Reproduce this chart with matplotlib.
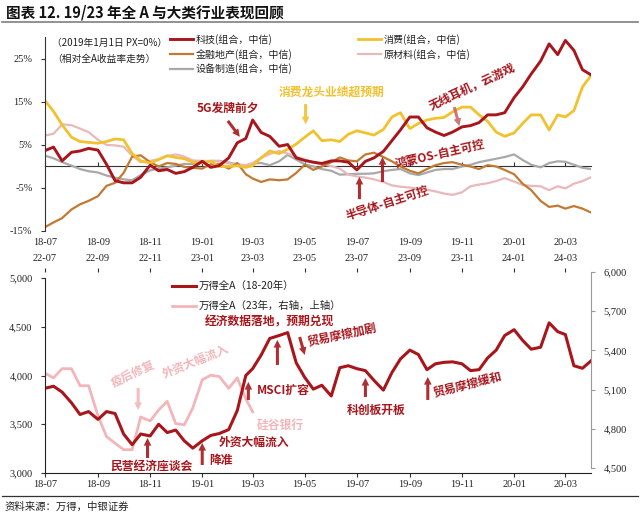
import matplotlib
matplotlib.use('Agg')
import matplotlib.pyplot as plt
import matplotlib.dates as mdates
from matplotlib.lines import Line2D
from matplotlib.ticker import FuncFormatter
import pandas as pd

plt.rcParams['font.family'] = ['Noto Sans CJK SC', 'DejaVu Sans']
plt.rcParams['axes.unicode_minus'] = False

# ---------------- data ----------------
months_1820 = ['2018-07', '2018-08', '2018-09', '2018-10', '2018-11', '2018-12',
               '2019-01', '2019-02', '2019-03', '2019-04', '2019-05', '2019-06',
               '2019-07', '2019-08', '2019-09', '2019-10', '2019-11', '2019-12',
               '2020-01', '2020-02', '2020-03']
months_23 = ['2022-07', '2022-08', '2022-09', '2022-10', '2022-11', '2022-12',
             '2023-01', '2023-02', '2023-03']
obs_days = ['01', '11', '21']
dates_1820 = [f"{m}-{d}" for m in months_1820 for d in obs_days] + ['2020-03-31']
dates_23 = [f"{m}-{d}" for m in months_23 for d in obs_days][:25]

tech = [3.7, 4.5, 1.3, 3.3, 3.6, 4.2, 3.8, 0.5, -3.3, -3.8,
        -3.8, -2.5, 0.3, -1.0, -0.7, -1.6, -1.2, -0.2, 1.2, -0.2,
        0.2, 2.0, 5.5, 6.5, 10.8, 7.9, 7.0, 4.7, 5.1, 2.0,
        1.4, 1.0, 0.7, 1.3, 1.3, 1.0, -0.8, 1.2, 2.0, 3.5,
        6.0, 8.5, 11.5, 11.5, 9.0, 8.0, 7.2, 8.0, 9.2, 9.5,
        10.2, 12.0, 12.0, 12.5, 16.0, 18.5, 21.5, 24.5, 28.5, 26.0,
        29.3, 27.0, 22.5, 21.3]
consumer = [15.3, 12.8, 9.7, 6.8, 5.8, 5.6, 5.4, 5.8, 6.4, 6.2,
            3.0, 1.3, 0.8, 1.6, 2.5, 2.1, 1.8, 1.0, 0.8, 1.2,
            0.0, 0.0, 0.2, -0.2, 0.2, 2.0, 3.6, 3.0, 4.0, 5.2,
            6.8, 8.3, 6.0, 6.2, 5.8, 7.5, 8.3, 7.8, 7.3, 8.6,
            11.5, 12.5, 8.8, 10.0, 10.8, 11.2, 11.4, 12.7, 13.8, 13.8,
            12.0, 10.5, 8.0, 7.0, 7.8, 10.0, 12.0, 12.0, 8.5, 12.0,
            11.5, 13.0, 18.5, 21.1]
finance = [-14.1, -13.0, -12.0, -10.0, -8.8, -8.0, -6.9, -4.5, -3.8, -1.5,
           2.3, 2.6, 1.0, 0.0, 0.8, 0.6, -0.1, -0.3, -0.5, 0.5,
           0.6, -0.5, 0.8, -1.8, -2.8, -3.6, -3.0, -3.2, -3.0, -1.5,
           0.4, -0.8, 0.0, 1.0, 2.1, 1.4, 1.2, 2.8, 3.2, 2.2,
           1.2, 0.0, -1.0, -1.6, -0.6, 0.3, 0.8, 1.0, 0.4, 0.0,
           -0.6, 0.3, 0.0, -0.8, -1.8, -4.0, -5.5, -8.0, -9.4, -9.1,
           -9.8, -9.2, -9.8, -10.7]
material = [7.2, 7.6, 9.8, 9.6, 8.8, 8.0, 6.2, 5.0, 4.9, 4.6,
            2.5, 1.0, 1.3, 1.7, 2.4, 2.8, 2.3, 1.4, 1.3, 1.3,
            1.2, 0.7, 0.4, 0.3, 0.8, 2.0, 2.9, 3.6, 3.0, 2.3,
            1.6, 0.9, 0.5, 0.1, -0.5, -1.9, -2.3, -2.6, -3.0, -3.6,
            -4.4, -4.7, -4.9, -5.2, -5.4, -5.8, -6.3, -6.6, -6.0, -4.6,
            -4.2, -3.9, -3.4, -2.7, -3.5, -4.3, -4.5, -4.6, -5.5, -4.6,
            -5.1, -4.0, -3.4, -2.5]
equipment = [2.5, 1.9, 1.0, 0.2, -0.6, -1.1, -1.4, -2.1, -2.6, -3.0,
             -3.2, -2.0, -0.9, -0.5, -0.2, 0.2, 0.6, 0.6, 0.9, 1.3,
             1.3, 0.9, 0.5, 0.2, 0.7, 0.8, 0.3, 1.2, 2.7, 1.6,
             0.5, 0.0, -0.6, -1.0, -1.9, -1.8, -1.7, -1.7, -1.6, -1.1,
             -0.8, -0.6, -1.6, -2.0, -1.4, -0.8, -0.6, -0.6, 0.0, 0.4,
             1.0, 1.4, 1.8, 2.2, 2.8, 1.5, 0.4, -0.2, 0.8, 1.2,
             1.1, 0.4, -0.3, -0.6]
wind_1820 = [3869, 3890, 3830, 3720, 3600, 3630, 3550, 3630, 3610, 3400,
             3290, 3400, 3380, 3500, 3415, 3440, 3330, 3255, 3330, 3385,
             3405, 3445, 3640, 4000, 4070, 4210, 4380, 4410, 4440, 4130,
             3980, 3860, 3900, 3790, 4080, 4100, 4070, 4050, 3950, 3850,
             4030, 4170, 4260, 4215, 4060, 4120, 4135, 4140, 4120, 4050,
             4060, 4180, 4260, 4410, 4470, 4360, 4270, 4290, 4540, 4450,
             4420, 4100, 4074, 4150]
wind_23 = [5225, 5190, 5260, 5260, 5130, 5130, 4900, 4740, 4690, 4640,
           4640, 4890, 4860, 4944, 5010, 4840, 4830, 4960, 5175, 5210,
           5200, 5110, 5190, 5030, 4930]

label_tech = '科技(组合，中信)'
label_cons = '消费(组合，中信)'
label_fin = '金融地产(组合，中信)'
label_mat = '原材料(组合，中信)'
label_eq = '设备制造(组合，中信)'
label_w1 = '万得全A（18-20年）'
label_w2 = '万得全A（23年，右轴，上轴）'

# ---------------- styles ----------------
RED = '#A8161C'
YEL = '#F2C12E'
BRN = '#C27A32'
PNK = '#E9B8BB'
GRY = '#A9A9A9'
PNK2 = '#F2B6BA'
TXT = '#222222'
SERIF = 'Liberation Serif'

W, H = 640, 518


def px_rect(x0, y0, x1, y1):
    return [x0 / W, 1 - y1 / H, (x1 - x0) / W, (y1 - y0) / H]


def dn(s):
    return mdates.date2num(pd.Timestamp(s))


fig = plt.figure(figsize=(W / 100, H / 100), dpi=100)

# title and rules
fig.text(6 / W, 1 - 12 / H, '图表 12. 19/23 年全 A 与大类行业表现回顾', fontsize=10.5,
         fontweight='bold', va='center', ha='left', color='#111111')
fig.add_artist(Line2D([2 / W, 638 / W], [1 - 22 / H, 1 - 22 / H], color='#7f7f7f', lw=1.2,
                      transform=fig.transFigure))
fig.add_artist(Line2D([2 / W, 638 / W], [1 - 496 / H, 1 - 496 / H], color='#333333', lw=0.9,
                      transform=fig.transFigure))
fig.text(5 / W, 1 - 507 / H, '资料来源：万得，中银证券', fontsize=7.5, style='italic',
         va='center', ha='left', color='#222222')

# ---------------- top chart ----------------
ax1 = fig.add_axes(px_rect(45, 37, 591, 231))
x1 = mdates.date2num(pd.to_datetime(dates_1820))
h_eq, = ax1.plot(x1, equipment, color=GRY, lw=1.6, zorder=2, label=label_eq)
h_mat, = ax1.plot(x1, material, color=PNK, lw=1.6, zorder=2.1, label=label_mat)
h_fin, = ax1.plot(x1, finance, color=BRN, lw=1.6, zorder=2.2, label=label_fin)
h_cons, = ax1.plot(x1, consumer, color=YEL, lw=2.0, zorder=2.3, label=label_cons)
h_tech, = ax1.plot(x1, tech, color=RED, lw=2.1, zorder=2.4, label=label_tech)

ax1.set_xlim(dn('2018-07-01'), dn('2020-03-31'))
ax1.set_ylim(-15, 30.1)
ax1.set_yticks([25, 15, 5, -5, -15])
ax1.yaxis.set_major_formatter(FuncFormatter(lambda v, p: f'{v:.0f}%'))
for s in ['top', 'right']:
    ax1.spines[s].set_visible(False)
ax1.spines['bottom'].set_position(('data', 0))
ax1.spines['bottom'].set_color('#333333')
ax1.spines['bottom'].set_zorder(1.5)
ax1.spines['left'].set_color('#333333')
ax1.xaxis.set_major_locator(mdates.MonthLocator(bymonth=[1, 3, 5, 7, 9, 11]))
ax1.tick_params(axis='x', direction='in', length=3, labelbottom=False, color='#333333')
ax1.tick_params(axis='y', direction='out', length=3, labelsize=7.5, pad=6,
                labelfontfamily=SERIF, color='#333333', labelcolor=TXT)
sec = ax1.secondary_xaxis(0)
sec.xaxis.set_major_locator(mdates.MonthLocator(bymonth=[1, 3, 5, 7, 9, 11]))
sec.xaxis.set_major_formatter(mdates.DateFormatter('%y-%m'))
sec.tick_params(length=0, pad=5, labelsize=7.5, labelfontfamily=SERIF, labelcolor=TXT)
sec.spines['bottom'].set_visible(False)

fig.text(52 / W, 1 - 43 / H, '（2019年1月1日 PX=0%）', fontsize=7, va='center', ha='left', color=TXT)
fig.text(52 / W, 1 - 59 / H, '（相对全A收益率走势）', fontsize=7, va='center', ha='left', color=TXT)

leg_kw = dict(loc='upper left', bbox_transform=fig.transFigure, frameon=False, fontsize=7.2,
              handlelength=2.3, handletextpad=0.3, labelspacing=0.38, borderpad=0,
              borderaxespad=0, labelcolor=TXT)
leg1 = ax1.legend(handles=[h_tech, h_fin, h_eq], bbox_to_anchor=(170 / W, 1 - 34 / H), **leg_kw)
ax1.add_artist(leg1)
ax1.legend(handles=[h_cons, h_mat], bbox_to_anchor=(358 / W, 1 - 34 / H), **leg_kw)

ann_font = dict(fontsize=8.5, fontweight='bold', ha='center', va='center',
                rotation_mode='anchor', zorder=5)


def arrow(ax, tail, head, color, alpha=0.9):
    ax.annotate('', xy=(dn(head[0]), head[1]), xytext=(dn(tail[0]), tail[1]),
                arrowprops=dict(arrowstyle='simple,head_length=0.55,head_width=0.55,tail_width=0.22',
                                color=color, alpha=alpha, lw=0, shrinkA=0, shrinkB=0), zorder=5)


ax1.text(dn('2019-01-31'), 13.6, '5G发牌前夕', color=RED, **ann_font)
arrow(ax1, ('2019-01-31', 10.6), ('2019-02-14', 6.9), RED)
ax1.text(dn('2019-06-01'), 17.2, '消费龙头业绩超预期', color=YEL, **ann_font)
arrow(ax1, ('2019-05-02', 14.5), ('2019-05-02', 9.8), YEL)
ax1.text(dn('2019-11-13'), 18.6, '无线耳机，云游戏', color=RED, rotation=25, **ann_font)
arrow(ax1, ('2019-10-23', 13.8), ('2019-10-29', 9.4), '#C9686C')
ax1.text(dn('2019-10-06'), 2.9, '鸿蒙OS-自主可控', color=RED, rotation=13, **ann_font)
ax1.text(dn('2019-08-06'), -8.5, '半导体-自主可控', color=RED, rotation=18, **ann_font)
arrow(ax1, ('2019-07-04', -7.6), ('2019-07-04', -2.4), RED)
arrow(ax1, ('2019-07-31', -3.6), ('2019-07-31', 2.2), RED)

# ---------------- bottom chart ----------------
ax3 = fig.add_axes(px_rect(45, 272, 591, 468))
ax2 = fig.add_axes(px_rect(45, 278, 591, 473))
ax2.patch.set_visible(False)

x23 = mdates.date2num(pd.to_datetime(dates_23))
h_w2, = ax3.plot(x23, wind_23, color=PNK2, lw=2.0, label=label_w2)
ax3.set_xlim(dn('2022-07-01'), dn('2024-03-31'))
ax3.set_ylim(4500, 6000)
ax3.set_yticks([4500, 4800, 5100, 5400, 5700, 6000])
ax3.yaxis.set_major_formatter(FuncFormatter(lambda v, p: f'{v:,.0f}'))
ax3.yaxis.tick_right()
ax3.xaxis.tick_top()
ax3.xaxis.set_major_locator(mdates.MonthLocator(bymonth=[1, 3, 5, 7, 9, 11]))
ax3.xaxis.set_major_formatter(mdates.DateFormatter('%y-%m'))
for s in ['top', 'left', 'bottom']:
    ax3.spines[s].set_visible(False)
ax3.spines['right'].set_color('#9a9a9a')
ax3.tick_params(axis='x', direction='out', length=3, pad=3.5, labelsize=7.5,
                labelfontfamily=SERIF, color='#333333', labelcolor=TXT)
ax3.tick_params(axis='y', direction='out', length=3, pad=6, labelsize=7.5,
                labelfontfamily=SERIF, color='#9a9a9a', labelcolor=TXT)

h_w1, = ax2.plot(x1, wind_1820, color=RED, lw=2.2, label=label_w1)
ax2.set_xlim(dn('2018-07-01'), dn('2020-03-31'))
ax2.set_ylim(3000, 5000)
ax2.set_yticks([3000, 3500, 4000, 4500, 5000])
ax2.yaxis.set_major_formatter(FuncFormatter(lambda v, p: f'{v:,.0f}'))
ax2.xaxis.set_major_locator(mdates.MonthLocator(bymonth=[1, 3, 5, 7, 9, 11]))
ax2.xaxis.set_major_formatter(mdates.DateFormatter('%y-%m'))
for s in ['top', 'right']:
    ax2.spines[s].set_visible(False)
ax2.spines['bottom'].set_color('#222222')
ax2.spines['left'].set_color('#222222')
ax2.tick_params(axis='x', direction='out', length=3, pad=2, labelsize=7.5,
                labelfontfamily=SERIF, color='#333333', labelcolor=TXT)
ax2.tick_params(axis='y', direction='out', length=3, pad=6, labelsize=7.5,
                labelfontfamily=SERIF, color='#333333', labelcolor=TXT)

ax2.legend(handles=[h_w1, h_w2], loc='upper left', bbox_to_anchor=(172 / W, 1 - 281 / H),
           bbox_transform=fig.transFigure, frameon=False, fontsize=7.5, handlelength=2.3,
           handletextpad=0.3, labelspacing=0.95, borderpad=0, borderaxespad=0, labelcolor=TXT)

ax2.text(dn('2019-03-21'), 4549, '经济数据落地，预期兑现', color=RED, **ann_font)
arrow(ax2, ('2019-03-30', 4108), ('2019-03-30', 4365), RED)
ax2.text(dn('2019-06-13'), 4416, '贸易摩擦加剧', color=RED, rotation=12, **ann_font)
arrow(ax2, ('2019-04-25', 4395), ('2019-05-01', 4211), RED)
ax2.text(dn('2019-03-06'), 3852, 'MSCI扩容', color=RED, **dict(ann_font, ha='left'))
arrow(ax2, ('2019-02-24', 3749), ('2019-02-24', 3934), RED)
ax2.text(dn('2019-03-06'), 3492, '硅谷银行', color=PNK2, **dict(ann_font, ha='left'))
ax2.text(dn('2018-12-24'), 4149, '外资大幅流入', color=PNK2, rotation=22, **ann_font)
ax2.text(dn('2018-10-12'), 4016, '疫后修复', color=PNK2, rotation=25, **ann_font)
arrow(ax2, ('2018-10-18', 3872), ('2018-10-18', 3646), PNK2)
ax2.text(dn('2018-11-03'), 3072, '民营经济座谈会', color=RED, **ann_font)
arrow(ax2, ('2018-10-29', 3154), ('2018-10-29', 3359), RED)
ax2.text(dn('2019-01-23'), 3133, '降准', color=RED, **ann_font)
arrow(ax2, ('2019-01-01', 3082), ('2019-01-01', 3308), RED)
ax2.text(dn('2019-03-02'), 3318, '外资大幅流入', color=RED, **ann_font)
ax2.text(dn('2019-07-24'), 3646, '科创板开板', color=RED, **ann_font)
arrow(ax2, ('2019-07-11', 3780), ('2019-07-11', 3975), RED)
ax2.text(dn('2019-11-07'), 3903, '贸易摩擦缓和', color=RED, rotation=14, **ann_font)
arrow(ax2, ('2019-09-22', 3749), ('2019-09-22', 3985), RED)

fig.savefig('out.png', dpi=100)
